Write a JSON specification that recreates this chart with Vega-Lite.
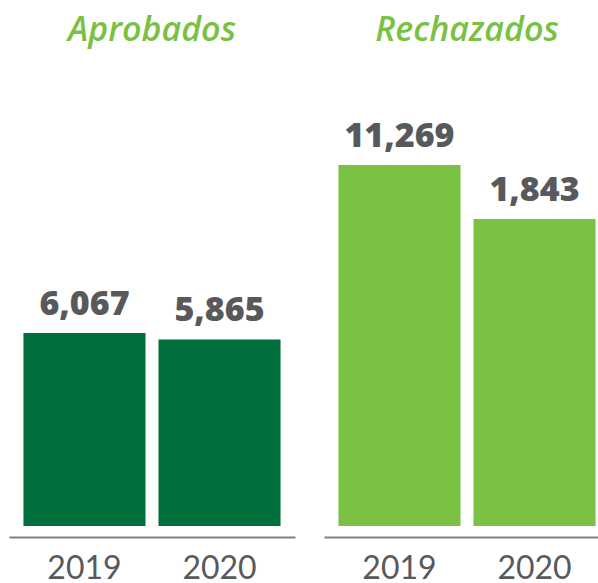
{
  "$schema": "https://vega.github.io/schema/vega-lite/v6.json",
  "padding": {"left": 9, "top": 14, "right": 0, "bottom": 0},
  "background": "white",
  "spacing": 29,
  "data": {"values": [
    {"grupo": "Aprobados", "anio": "2019", "valor": 6067},
    {"grupo": "Aprobados", "anio": "2020", "valor": 5865},
    {"grupo": "Rechazados", "anio": "2019", "valor": 11269},
    {"grupo": "Rechazados", "anio": "2020", "valor": 1843}
  ]},
  "config": {
    "view": {"stroke": null},
    "font": "Lato",
    "title": {"font": "Open Sans", "fontSize": 34, "fontStyle": "italic", "fontWeight": 600, "color": "#7AC143", "anchor": "middle", "offset": 18},
    "axisX": {"domainColor": "#808080", "domainWidth": 2, "ticks": false, "labelFontSize": 32, "labelColor": "#58595B", "labelPadding": 16, "offset": 11, "labelAngle": 0, "title": null, "labelFont": "Lato"}
  },
  "hconcat": [
    {
      "width": 286, "height": 460,
      "title": "Aprobados",
      "transform": [{"filter": "datum.grupo === 'Aprobados'"}],
      "encoding": {
        "x": {"field": "anio", "type": "nominal", "scale": {"paddingInner": 0.096, "paddingOuter": 0.107}, "axis": {}},
        "y": {"field": "valor", "type": "quantitative", "scale": {"domain": [0, 14460]}, "axis": null}
      },
      "layer": [
        {"mark": {"type": "bar", "color": "#006F3C"}},
        {"mark": {"type": "text", "font": "Open Sans", "baseline": "alphabetic", "dy": -18, "fontSize": 34, "fontWeight": 800, "color": "#58595B"},
         "encoding": {"text": {"field": "valor", "type": "quantitative", "format": ","}}}
      ]
    },
    {
      "width": 286, "height": 460,
      "title": "Rechazados",
      "transform": [{"filter": "datum.grupo === 'Rechazados'"}],
      "encoding": {
        "x": {"field": "anio", "type": "nominal", "scale": {"paddingInner": 0.096, "paddingOuter": 0.107}, "axis": {}},
        "y": {"field": "valor", "type": "quantitative", "scale": {"domain": [-51745, 28551], "zero": false}, "axis": null}
      },
      "layer": [
        {"mark": {"type": "bar", "color": "#7AC143"}, "encoding": {"y2": {"datum": -51745}}},
        {"mark": {"type": "text", "font": "Open Sans", "baseline": "alphabetic", "dy": -18, "fontSize": 34, "fontWeight": 800, "color": "#58595B"},
         "encoding": {"text": {"field": "valor", "type": "quantitative", "format": ","}}}
      ]
    }
  ]
}
